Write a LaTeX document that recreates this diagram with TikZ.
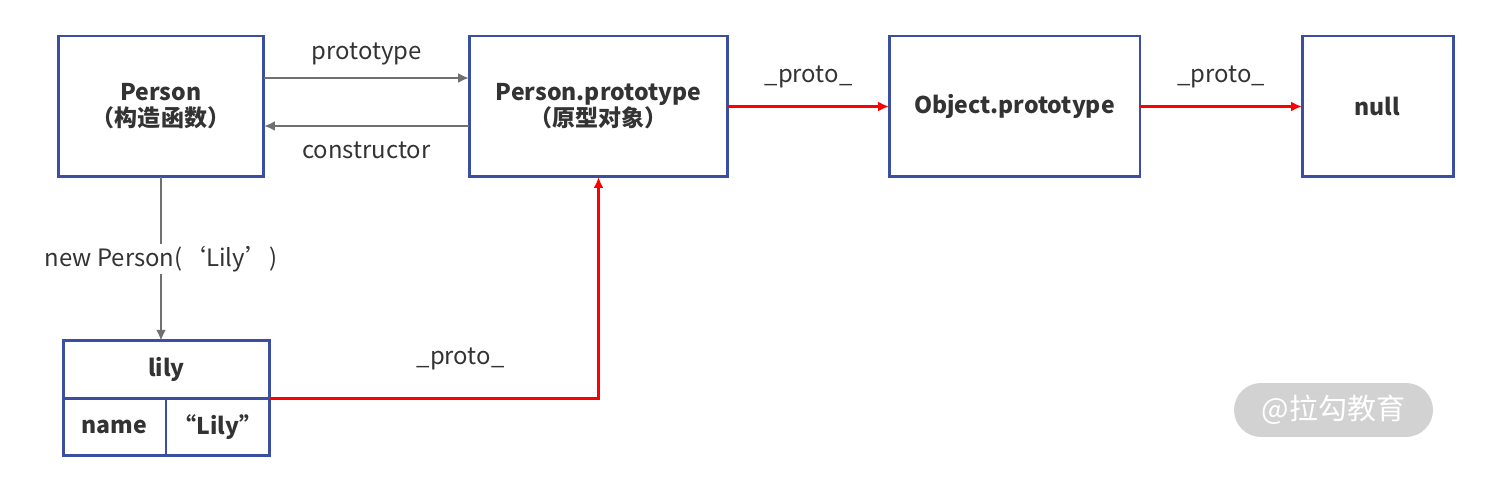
\documentclass[tikz,border=0pt]{standalone}
\usepackage{fontspec}
\setmainfont{Noto Sans CJK SC}
\usepackage{xcolor}
\usetikzlibrary{positioning,arrows.meta}

\definecolor{boxblue}{HTML}{3B4FA2}
\definecolor{linegray}{HTML}{707070}
\definecolor{textgray}{HTML}{333333}
\definecolor{markgray}{HTML}{D2D2D2}

\begin{document}
\begin{tikzpicture}[
  x=0.02cm, y=-0.02cm,
  every node/.style={text=textgray},
  box/.style={rectangle, draw=boxblue, line width=1.7pt, minimum height=2.82cm, align=center, font=\fontsize{13.1}{14.8}\selectfont\bfseries, inner sep=0pt, outer sep=0pt},
  cell/.style={box, minimum height=1.15cm},
  grayarrow/.style={-{Latex[length=2.2mm,width=2mm]}, draw=linegray, line width=1.3pt},
  redarrow/.style={-{Latex[length=2.2mm,width=2mm]}, draw=red, line width=1.6pt},
  label/.style={font=\fontsize{13.6}{16}\selectfont}
]
\useasboundingbox (0,0) rectangle (1496,492);

% top row
\node[box, minimum width=4.12cm] (person) at (161,106.5) {Person\\（构造函数）};
\node[box, minimum width=5.18cm] (pproto) at (598.5,106.5) {Person.prototype\\（原型对象）};
\node[box, minimum width=5.02cm] (oproto) at (1014.5,106.5) {Object.prototype};
\node[box, minimum width=3.02cm] (null) at (1377.5,106.5) {null};

% instance
\node[cell, minimum width=4.14cm] (lily) at (166.5,369.5) {lily};
\node[cell, minimum width=2.06cm, anchor=north west] (key) at (lily.south west) {name};
\node[cell, minimum width=2.08cm, anchor=north west] (val) at (key.north east) {“Lily”};

% arrows
\draw[grayarrow] ([yshift=0.57cm]person.east) -- node[above=0.12cm, label] {prototype} ([yshift=0.57cm]pproto.west);
\draw[grayarrow] ([yshift=-0.39cm]pproto.west) -- node[below=0.17cm, label] {constructor} ([yshift=-0.39cm]person.east);
\draw[grayarrow] (person.south) -- node[fill=white, label, inner sep=1pt] {new Person(‘Lily’)} (person.south |- lily.north);
\draw[redarrow] (pproto.east) -- node[above=0.22cm, label] {\_proto\_} (oproto.west);
\draw[redarrow] (oproto.east) -- node[above=0.22cm, label] {\_proto\_} (null.west);
\draw[redarrow] (val.north east) -| node[pos=0.29, above=0.42cm, label] {\_proto\_} (pproto.south);

% watermark
\node[fill=markgray, rounded corners=0.54cm, minimum width=3.98cm, minimum height=1.08cm, text=white, font=\fontsize{16.5}{18}\selectfont] (mark) at (1333.5,410) {@拉勾教育};

\end{tikzpicture}
\end{document}
